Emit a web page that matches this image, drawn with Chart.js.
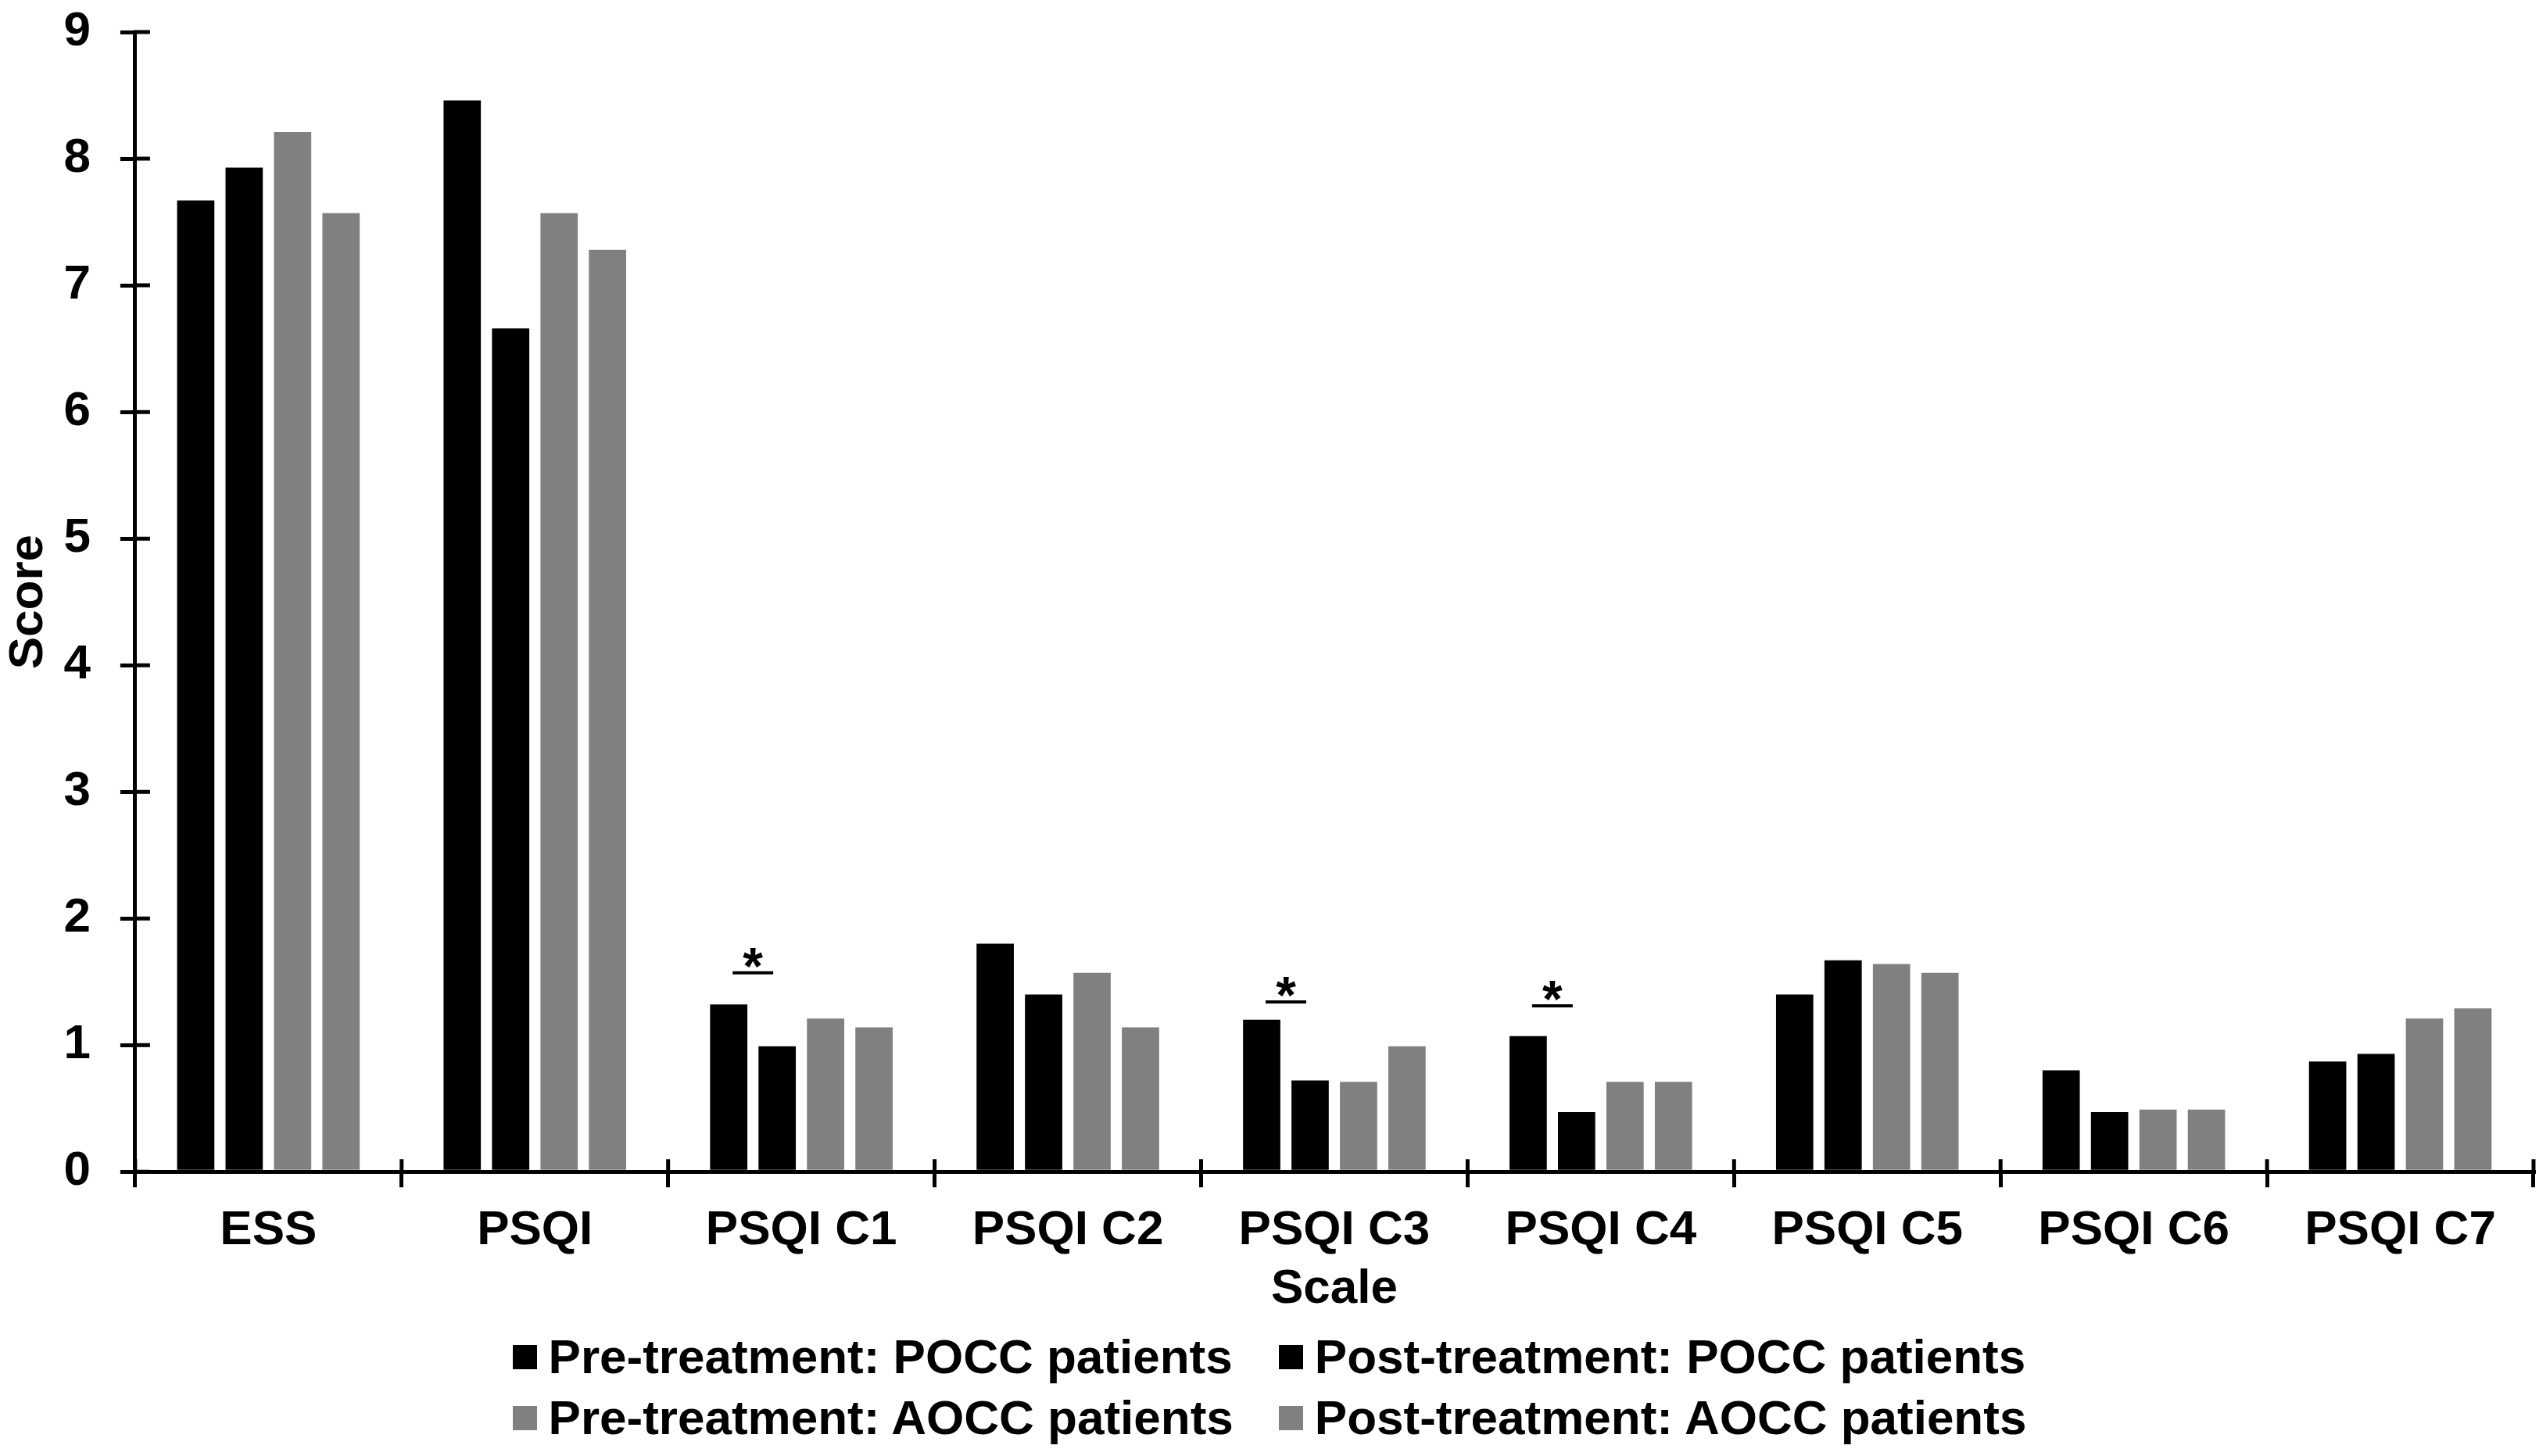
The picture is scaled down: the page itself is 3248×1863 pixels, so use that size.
<!DOCTYPE html>
<html>
<head>
<meta charset="utf-8">
<script src="https://cdn.jsdelivr.net/npm/chart.js@4"></script>
<style>
  body { margin: 0; background: #fff; }
  #wrap { position: relative; width: 3248px; height: 1863px; }
  #legend {
    position: absolute; left: 0; right: 0; top: 1697px;
    display: flex; justify-content: center;
  }
  #legend ul {
    list-style: none; margin: 0; padding: 0;
    display: grid; grid-template-columns: auto auto; column-gap: 58px;
    font-family: "Liberation Sans", Arial, sans-serif; font-weight: bold;
    font-size: 62px; line-height: 78px; color: #000;
  }
  #legend li { display: flex; align-items: center; white-space: nowrap; }
  #legend li span.box { display: inline-block; width: 31px; height: 31px; margin-right: 15px; }
</style>
</head>
<body>
<div id="wrap">
  <canvas id="chart-scores"></canvas>
  <div id="legend"></div>
</div>
<script>
var categories = ["ESS", "PSQI", "PSQI C1", "PSQI C2", "PSQI C3", "PSQI C4", "PSQI C5", "PSQI C6", "PSQI C7"];
var prePOCC  = [7.67, 8.46, 1.32, 1.80, 1.20, 1.07, 1.40, 0.80, 0.87];
var postPOCC = [7.93, 6.66, 0.99, 1.40, 0.72, 0.47, 1.67, 0.47, 0.93];
var preAOCC  = [8.21, 7.57, 1.21, 1.57, 0.71, 0.71, 1.64, 0.49, 1.21];
var postAOCC = [7.57, 7.28, 1.14, 1.14, 0.99, 0.71, 1.57, 0.49, 1.29];
var yTicks = [0, 1, 2, 3, 4, 5, 6, 7, 8, 9];

// significance marks (pre vs post POCC), height of the bar in score units
var sigCategories = ["PSQI C1", "PSQI C3", "PSQI C4"];
var sigLevels = [1.57, 1.34, 1.31];

var FONT = "'Liberation Sans', Arial, sans-serif";

// inner half of the tick marks, so they cross the axis line
var crossTicks = {
    id: 'crossTicks',
    afterDraw: function(chart) {
        var ctx = chart.ctx, x = chart.scales.x, y = chart.scales.y;
        ctx.save();
        ctx.strokeStyle = '#000';
        ctx.lineWidth = 5;
        ctx.beginPath();
        y.ticks.forEach(function(t, i) {
            var py = y.getPixelForTick(i);
            ctx.moveTo(y.right - 2, py);
            ctx.lineTo(y.right + 19, py);
        });
        for (var i = 0; i <= categories.length; i++) {
            var px = x.left + i * (x.width / categories.length);
            ctx.moveTo(px, x.top + 2);
            ctx.lineTo(px, x.top - 16);
        }
        ctx.stroke();
        ctx.restore();
    }
};

var sigMarks = {
    id: 'sigMarks',
    afterDatasetsDraw: function(chart) {
        var ctx = chart.ctx, y = chart.scales.y;
        var m0 = chart.getDatasetMeta(0), m1 = chart.getDatasetMeta(1);
        ctx.save();
        ctx.strokeStyle = '#000';
        ctx.fillStyle = '#000';
        ctx.lineWidth = 4;
        ctx.font = 'bold 66px ' + FONT;
        ctx.textAlign = 'center';
        ctx.textBaseline = 'alphabetic';
        sigCategories.forEach(function(cat, k) {
            var i = categories.indexOf(cat);
            var x0 = m0.data[i].x + 5, x1 = m1.data[i].x - 5;
            var py = y.getPixelForValue(sigLevels[k]);
            ctx.beginPath();
            ctx.moveTo(x0, py);
            ctx.lineTo(x1, py);
            ctx.stroke();
            ctx.fillText('*', (x0 + x1) / 2, py + 14);
        });
        ctx.restore();
    }
};

var htmlLegend = {
    id: 'htmlLegend',
    afterUpdate: function(chart) {
        var box = document.getElementById('legend');
        var items = chart.options.plugins.legend.labels.generateLabels(chart);
        var ul = document.createElement('ul');
        items.forEach(function(item) {
            var li = document.createElement('li');
            var sw = document.createElement('span');
            sw.className = 'box';
            sw.style.background = item.fillStyle;
            li.appendChild(sw);
            li.appendChild(document.createTextNode(item.text));
            ul.appendChild(li);
        });
        box.innerHTML = '';
        box.appendChild(ul);
    }
};

function drawScoresChart() {
    var ctx = document.getElementById('chart-scores').getContext('2d');
    var tickFont = { family: FONT, size: 62, weight: 'bold' };
    return new Chart(ctx, {
        type: 'bar',
        data: {
            labels: categories,
            datasets: [{
                label: "Pre-treatment: POCC patients",
                backgroundColor: '#000000',
                data: prePOCC
            }, {
                label: "Post-treatment: POCC patients",
                backgroundColor: '#000000',
                data: postPOCC
            }, {
                label: "Pre-treatment: AOCC patients",
                backgroundColor: '#808080',
                data: preAOCC
            }, {
                label: "Post-treatment: AOCC patients",
                backgroundColor: '#808080',
                data: postAOCC
            }]
        },
        options: {
            responsive: true,
            maintainAspectRatio: false,
            animation: false,
            devicePixelRatio: 1,
            categoryPercentage: 0.727,
            barPercentage: 0.77,
            layout: { padding: { top: 0, right: 7, bottom: 176, left: 0 } },
            plugins: {
                legend: { display: false },
                tooltip: { enabled: false }
            },
            scales: {
                x: {
                    grid: {
                        offset: true,
                        drawOnChartArea: false,
                        drawTicks: true,
                        tickLength: 20,
                        color: '#000',
                        lineWidth: 5
                    },
                    border: { display: true, color: '#000', width: 5 },
                    ticks: { color: '#000', font: tickFont, padding: 19, maxRotation: 0, autoSkip: false },
                    title: {
                        display: true, text: 'Scale', color: '#000', font: tickFont,
                        padding: { top: -19, bottom: 0 }
                    }
                },
                y: {
                    min: 0,
                    max: 9,
                    afterBuildTicks: function(scale) {
                        scale.ticks = yTicks.map(function(v) { return { value: v }; });
                    },
                    grid: {
                        drawOnChartArea: false,
                        drawTicks: true,
                        tickLength: 19,
                        color: '#000',
                        lineWidth: 5
                    },
                    border: { display: true, color: '#000', width: 5 },
                    ticks: {
                        color: '#000',
                        font: { family: FONT, size: 62, weight: 'bold', lineHeight: 0.1 },
                        padding: 38
                    },
                    title: {
                        display: true, text: 'Score', color: '#000', font: tickFont,
                        padding: { top: 0, bottom: -31 }
                    }
                }
            }
        },
        plugins: [crossTicks, sigMarks, htmlLegend]
    });
}

drawScoresChart();
</script>
</body>
</html>
